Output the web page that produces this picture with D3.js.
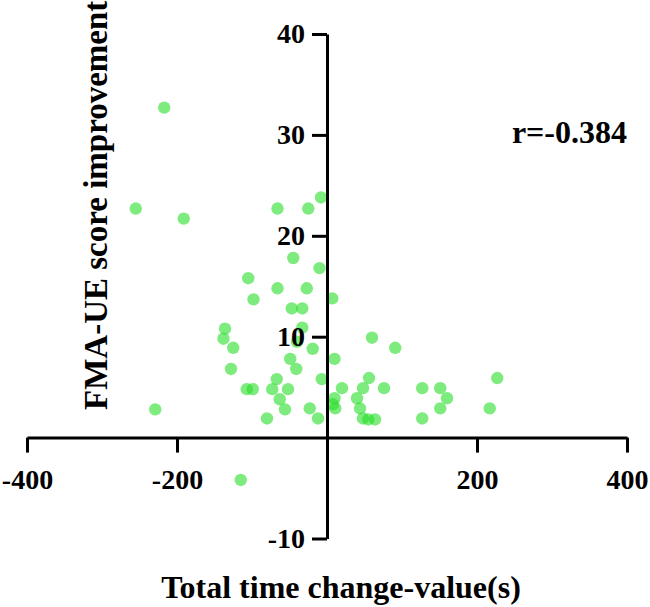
<!DOCTYPE html>
<html>
<head>
<meta charset="utf-8">
<script src="https://cdn.jsdelivr.net/npm/d3@7"></script>
<style>
  body { margin: 0; background: #fff; }
  svg { display: block; }
</style>
</head>
<body>
<svg id="chart" width="650" height="607"></svg>
<script>
// total time change (s) vs FMA-UE score improvement
const timeChange = [
  -217, -255, -191, -66, -25, -8, -45, -10, -105, -66,
  -27, -98, -47, -33, 7, -136, -138, -125, -33, -40,
  -19, -49, -41, -128, -67, -7, -107, -99, -73, -52,
  -63, -56, -23, -12, -80, -229, 60, 91, 10, 56,
  20, 48, 76, 127, 151, 160, 151, 227, 217, 10,
  8, 11, 40, 44, 48, 55, 64, 127, -115
];
const fmaGain = [
  32.7, 22.7, 21.7, 22.7, 22.7, 23.8, 17.8, 16.8, 15.8, 14.8,
  14.8, 13.7, 12.8, 12.8, 13.8, 10.8, 9.8, 8.9, 10.9, 9.5,
  8.8, 7.8, 6.8, 6.8, 5.8, 5.8, 4.8, 4.8, 4.8, 4.8,
  3.8, 2.8, 2.9, 1.9, 1.9, 2.8, 9.9, 8.9, 7.8, 5.9,
  4.9, 4.9, 4.9, 4.9, 4.9, 3.9, 2.9, 5.9, 2.9, 3.9,
  3.3, 2.9, 3.9, 2.9, 1.9, 1.8, 1.8, 1.9, -4.2
];
const xTicks = [-400, -200, 200, 400];
const yTicks = [-10, 10, 20, 30, 40];
const rLabel = "r=-0.384";

const svg = d3.select("#chart");
const font = "'Liberation Serif', 'Times New Roman', serif";

const x = d3.scaleLinear().domain([-400, 400]).range([27, 627]);
const y = d3.scaleLinear().domain([-10, 40]).range([538.5, 34]);

const points = timeChange.map((t, i) => ({ t: t, v: fmaGain[i] }));

// dots first so the axes sit on top
svg.append("g")
  .selectAll("circle")
  .data(points)
  .join("circle")
  .attr("cx", d => x(d.t))
  .attr("cy", d => y(d.v))
  .attr("r", 6.2)
  .attr("fill", "rgb(40,222,40)")
  .attr("fill-opacity", 0.6);

// plain hyphen for negatives, like the original
const fmt = d => String(d);

function styleAxis(g) {
  g.select(".domain").attr("stroke", "#000").attr("stroke-width", 3);
  g.selectAll(".tick line").attr("stroke", "#000").attr("stroke-width", 3);
  g.selectAll(".tick text")
    .attr("fill", "#000")
    .style("font", `bold 28px ${font}`);
}

svg.append("g")
  .attr("transform", `translate(0,${y(0)})`)
  .call(d3.axisBottom(x).tickValues(xTicks).tickFormat(fmt)
    .tickSize(15).tickSizeOuter(0).tickPadding(17))
  .call(styleAxis);

svg.append("g")
  .attr("transform", `translate(${x(0)},0)`)
  .call(d3.axisLeft(y).tickValues(yTicks).tickFormat(fmt)
    .tickSize(15).tickSizeOuter(0).tickPadding(7))
  .call(styleAxis);

svg.append("text")
  .attr("x", 341)
  .attr("y", 598)
  .attr("text-anchor", "middle")
  .style("font", `bold 32px ${font}`)
  .text("Total time change-value(s)");

svg.append("text")
  .attr("transform", "translate(107,410) rotate(-90)")
  .attr("text-anchor", "start")
  .style("font", `bold 33px ${font}`)
  .text("FMA-UE score improvement");

svg.append("text")
  .attr("x", 627)
  .attr("y", 143)
  .attr("text-anchor", "end")
  .style("font", `bold 32px ${font}`)
  .text(rLabel);
</script>
</body>
</html>
